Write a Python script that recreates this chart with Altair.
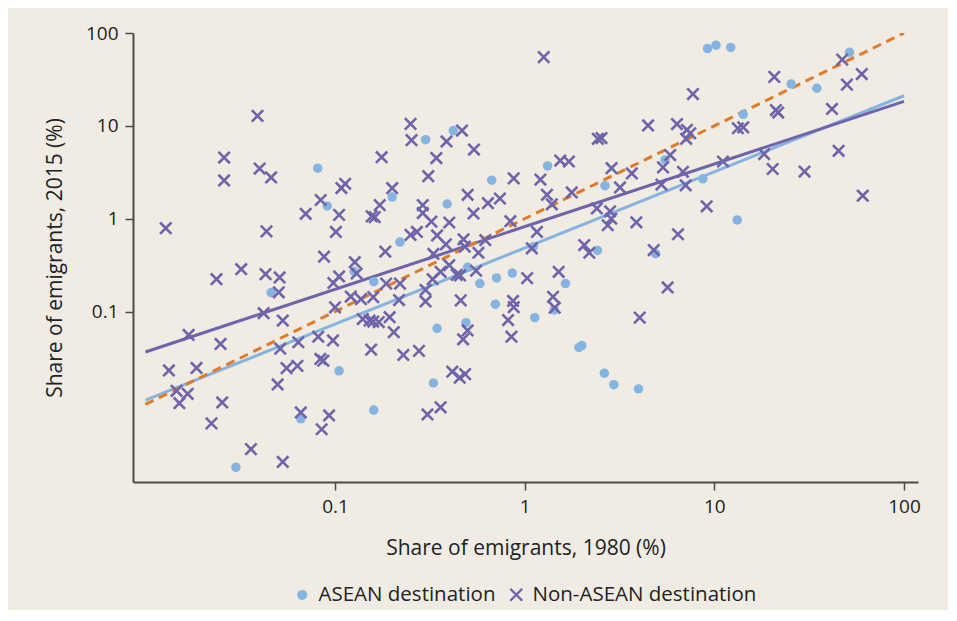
import altair as alt
import pandas as pd

# ---- data (percent shares) ----
asean_1980 = [0.081, 0.091, 0.20, 0.22, 0.046, 0.126, 0.16, 0.105, 0.066, 0.16, 0.030,
              0.30, 0.42, 0.67, 1.32, 0.39, 2.65, 1.11, 2.42, 4.9, 5.5, 0.50, 0.58, 0.71,
              0.86, 1.64, 0.70, 1.43, 1.13, 0.345, 0.49, 0.33, 1.93, 2.0, 2.63, 2.95, 3.98,
              9.2, 10.2, 12.2, 51.6, 25.4, 34.7, 14.2, 8.7, 13.2]
asean_2015 = [3.5, 1.37, 1.71, 0.56, 0.16, 0.27, 0.21, 0.023, 0.0070, 0.0087, 0.0021,
              7.1, 8.9, 2.6, 3.7, 1.44, 2.27, 0.50, 0.455, 0.42, 4.3, 0.30, 0.20, 0.23,
              0.26, 0.20, 0.12, 0.104, 0.086, 0.066, 0.076, 0.017, 0.041, 0.043, 0.0217,
              0.0163, 0.0147, 68, 74, 70, 62, 28.2, 25.4, 13.3, 2.69, 0.97]

non_1980 = [0.039, 0.026, 0.026, 0.040, 0.046, 0.084, 0.070, 0.113, 0.108, 0.105, 0.101,
            0.176, 0.20, 0.172, 0.156, 0.162, 0.0128, 0.0435, 0.184, 0.0875, 0.29, 0.29,
            0.27, 0.25, 0.127, 0.130, 0.0237, 0.032, 0.043, 0.051, 0.0505, 0.105, 0.098,
            0.186, 0.22, 0.30, 0.121, 0.137, 0.159, 0.2175, 0.30, 0.042, 0.100, 0.053,
            0.0169, 0.0249, 0.140, 0.152, 0.159, 0.170, 0.194, 0.204, 0.0815, 0.0975,
            0.064, 0.0514, 0.155, 0.229, 0.277, 0.0133, 0.0186, 0.0555, 0.0633, 0.0836,
            0.0867, 0.0498, 0.0146, 0.0167, 0.0151, 0.0254, 0.0223, 0.066, 0.093, 0.085,
            0.307, 0.036, 0.053, 0.36,
            1.26, 0.25, 0.253, 0.467, 0.387, 0.342, 0.54, 0.31, 0.875, 1.21, 1.54, 1.71,
            2.43, 2.54, 4.47, 2.87, 3.67, 3.18, 0.322, 0.50, 0.64, 0.74, 0.537, 0.40,
            1.31, 1.39, 1.77, 2.4, 2.82, 2.86, 2.74, 3.88, 0.84, 1.16, 0.345, 0.384,
            0.476, 0.483, 0.62, 0.33, 0.57, 1.09, 2.06, 2.19, 4.79, 6.43, 5.36, 6.83,
            7.06, 5.26, 5.85, 0.40, 0.36, 0.327, 0.438, 0.456, 0.554, 1.03, 1.51, 0.46,
            0.868, 0.875, 1.41, 1.44, 0.817, 0.851, 0.50, 0.473, 0.415, 0.454, 0.485,
            4.04, 5.67,
            47.2, 59.9, 50, 20.7, 7.71, 41.7, 21.1, 21.7, 6.35, 7.17, 7.46, 7.10, 13.3,
            14.2, 11.1, 18.3, 20.3, 29.9, 45.2, 60.6, 9.11]
non_2015 = [12.8, 4.56, 2.58, 3.47, 2.78, 1.59, 1.13, 2.38, 2.14, 1.10, 0.72, 4.6, 2.13,
            1.40, 1.06, 1.04, 0.79, 0.73, 0.443, 0.39, 1.40, 1.15, 0.72, 0.67, 0.34,
            0.257, 0.223, 0.286, 0.253, 0.233, 0.161, 0.239, 0.203, 0.20, 0.20, 0.171,
            0.145, 0.136, 0.143, 0.133, 0.1285, 0.096, 0.111, 0.080, 0.056, 0.0448,
            0.083, 0.080, 0.078, 0.077, 0.087, 0.060, 0.0536, 0.0489, 0.0467, 0.0398,
            0.0389, 0.0341, 0.0377, 0.0232, 0.0247, 0.0246, 0.026, 0.0309, 0.0296,
            0.0164, 0.0140, 0.0130, 0.0103, 0.0105, 0.00625, 0.0082, 0.0076, 0.0054,
            0.0078, 0.0033, 0.0024, 0.0093,
            55, 10.5, 7.0, 8.9, 6.8, 4.5, 5.56, 2.87, 2.72, 2.64, 4.23, 4.13, 7.26, 7.39,
            10.1, 3.5, 3.07, 2.17, 0.93, 1.81, 1.47, 1.65, 1.14, 0.91, 1.81, 1.43, 1.92,
            1.29, 1.20, 1.0, 0.85, 0.915, 0.94, 0.72, 0.66, 0.53, 0.60, 0.50, 0.587,
            0.417, 0.43, 0.48, 0.52, 0.43, 0.46, 0.68, 3.57, 3.2, 2.29, 2.33, 4.85,
            0.316, 0.268, 0.223, 0.249, 0.245, 0.275, 0.229, 0.268, 0.132, 0.130,
            0.1115, 0.144, 0.110, 0.081, 0.0536, 0.0626, 0.0503, 0.0225, 0.0194, 0.0212,
            0.086, 0.182,
            51.7, 36.1, 27.8, 33.7, 22.0, 15.2, 14.8, 13.9, 10.45, 9.06, 8.32, 7.26, 9.42,
            9.64, 4.13, 4.97, 3.43, 3.22, 5.38, 1.77, 1.36]

# fitted lines / 45-degree line (end points)
fit_x = [0.01, 100]
asean_fit = [0.0111, 21.1]
non_fit = [0.0367, 18.35]
parity = [0.01, 100]

categories = ["ASEAN destination", "Non-ASEAN destination"]
x_ticks = [0.1, 1, 10, 100]
y_ticks = [0.1, 1, 10, 100]

BLUE = "#86b4e0"
PURPLE = "#6e64aa"
ORANGE = "#e07b2a"
AXIS = "#4a4a4a"
BG = "#f0ece3"
TXT = "#222222"
FONT = "Open Sans"
XPATH = "M-1.2,-1.2L1.2,1.2M-1.2,1.2L1.2,-1.2"

pts = pd.DataFrame({
    "x": asean_1980 + non_1980,
    "y": asean_2015 + non_2015,
    "dest": [categories[0]] * len(asean_1980) + [categories[1]] * len(non_1980),
})

xscale = alt.Scale(type="log", domain=[0.0086, 118.5], nice=False, zero=False)
yscale = alt.Scale(type="log", domain=[0.00146, 100], nice=False, zero=False)
xaxis = alt.Axis(values=x_ticks, format="~g", title="Share of emigrants, 1980 (%)",
                 titleY=66, titleBaseline="middle", labelPadding=7)
yaxis = alt.Axis(values=y_ticks, format="~g", title="Share of emigrants, 2015 (%)",
                 titleX=-78, titleY=224.5, titleBaseline="middle", labelPadding=7)

def X():
    return alt.X("x:Q", scale=xscale, axis=xaxis)

def Y():
    return alt.Y("y:Q", scale=yscale, axis=yaxis)

def fit_layer(yvals, color, dash=None):
    df = pd.DataFrame({"x": fit_x, "y": yvals})
    kw = dict(color=color, strokeWidth=3, clip=True)
    if dash:
        kw["strokeDash"] = dash
    return alt.Chart(df).mark_line(**kw).encode(x=X(), y=Y())

legend = alt.Legend(title=None, orient="none", legendX=159, legendY=551,
                    direction="horizontal", padding=0, labelOffset=6,
                    columnPadding=9, symbolSize=100, symbolStrokeWidth=2.4,
                    labelFontSize=20.5, labelFont=FONT, labelColor=TXT, labelLimit=0)

points = alt.Chart(pts).mark_point(size=90, strokeWidth=2.6, opacity=1,
                                   fillOpacity=1).encode(
    x=X(),
    y=Y(),
    shape=alt.Shape("dest:N", scale=alt.Scale(domain=categories, range=["circle", XPATH]),
                    legend=legend),
    fill=alt.Fill("dest:N", scale=alt.Scale(domain=categories, range=[BLUE, "transparent"]),
                  legend=legend),
    stroke=alt.Stroke("dest:N", scale=alt.Scale(domain=categories, range=["transparent", PURPLE]),
                      legend=legend),
)

chart = alt.layer(
    fit_layer(asean_fit, BLUE),
    fit_layer(non_fit, PURPLE),
    fit_layer(parity, ORANGE, [9, 6]),
    points,
).properties(
    width=785, height=449,
    autosize=alt.AutoSizeParams(type="none"),
    padding={"left": 125, "top": 25, "right": 30, "bottom": 128},
    background=BG,
).configure_view(stroke=None).configure_axis(
    grid=False,
    domainColor=AXIS, domainWidth=2,
    tickColor=AXIS, tickWidth=1.5, tickSize=8,
    labelFont=FONT, labelFontSize=19, labelColor=TXT,
    titleFont=FONT, titleFontSize=21, titleFontWeight="normal", titleColor=TXT,
)

chart.save("out.html", embed_options={"renderer": "svg", "actions": False})
